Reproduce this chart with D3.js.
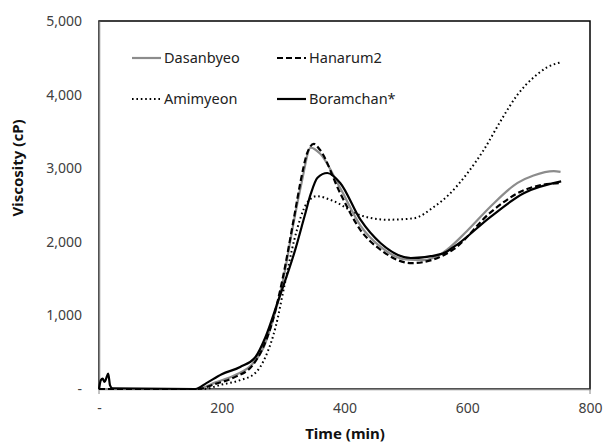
<!DOCTYPE html>
<html>
<head>
<meta charset="utf-8">
<script src="https://cdn.jsdelivr.net/npm/d3@7"></script>
<style>
  body { margin: 0; background: #fff; }
  text { font-family: "Noto Sans", sans-serif; }
</style>
</head>
<body>
<div id="container"></div>
<script>
// ---------------- data ----------------
const xTicks = [0, 200, 400, 600, 800];
const yTicks = [0, 1000, 2000, 3000, 4000, 5000];

const dasanbyeoT = [0, 160, 190, 222, 250, 268, 282, 298, 318, 330, 345, 360, 393, 426, 459, 500, 530, 560, 600, 638, 682, 708, 741, 752];
const dasanbyeoV = [0, 0, 90, 190, 340, 560, 900, 1400, 2300, 2800, 3280, 3200, 2730, 2220, 1930, 1760, 1750, 1850, 2150, 2480, 2800, 2900, 2960, 2950];

const hanarum2T = [0, 160, 190, 222, 250, 266, 282, 298, 318, 328, 339, 350, 360, 393, 426, 459, 510, 545, 578, 638, 692, 720, 753];
const hanarum2V = [0, 0, 70, 165, 320, 540, 900, 1450, 2340, 2800, 3200, 3330, 3250, 2660, 2160, 1890, 1710, 1760, 1900, 2400, 2700, 2770, 2800];

const amimyeonT = [0, 170, 200, 230, 255, 272, 288, 302, 318, 339, 355, 380, 426, 470, 513, 545, 570, 600, 627, 655, 682, 709, 730, 753];
const amimyeonV = [0, 0, 60, 120, 220, 450, 850, 1400, 2020, 2530, 2620, 2560, 2360, 2300, 2320, 2470, 2640, 2930, 3250, 3650, 4000, 4240, 4370, 4440];

const boramchanT = [0, 3, 6, 9, 12, 15, 18, 22, 157, 175, 200, 230, 255, 271, 292, 320, 335, 345, 356, 372, 393, 426, 459, 508, 560, 578, 638, 692, 753];
const boramchanV = [0, 120, 140, 95, 150, 210, 50, 10, 0, 80, 200, 300, 435, 700, 1200, 1900, 2350, 2650, 2870, 2935, 2800, 2300, 1980, 1780, 1840, 1930, 2340, 2660, 2820];

const seriesNames = ['Dasanbyeo', 'Hanarum2', 'Amimyeon', 'Boramchan*'];

// ---------------- svg ----------------
const width = 603, height = 445;
const margin = {left: 99, right: 13, top: 21, bottom: 56};

const svg = d3.select('#container').append('svg')
    .attr('width', width)
    .attr('height', height);

const x = d3.scaleLinear().domain([0, 800]).range([margin.left, width - margin.right]);
const y = d3.scaleLinear().domain([0, 5000]).range([height - margin.bottom, margin.top]);

// plot frame (top/right black)
svg.append('rect')
    .attr('x', x(0)).attr('y', y(5000))
    .attr('width', x(800) - x(0)).attr('height', y(0) - y(5000))
    .attr('fill', 'none').attr('stroke', '#000').attr('stroke-width', 1.5);

const fmt = (d) => d === 0 ? '-' : d3.format(',')(d);

// y axis
const yAxis = svg.append('g')
    .attr('transform', `translate(${x(0)},0)`)
    .call(d3.axisLeft(y).tickValues(yTicks).tickFormat(fmt).tickSize(0).tickPadding(17));
yAxis.select('.domain').attr('stroke', '#868686').attr('stroke-width', 1.5);
yAxis.selectAll('text').attr('font-size', 14).attr('fill', '#404040')
    .style('font-family', '"Noto Sans", sans-serif');

// x axis
const xAxis = svg.append('g')
    .attr('transform', `translate(0,${y(0)})`)
    .call(d3.axisBottom(x).tickValues(xTicks).tickFormat(fmt).tickSize(0).tickPadding(14));
xAxis.select('.domain').attr('stroke', '#868686').attr('stroke-width', 1.5);
xAxis.selectAll('text').attr('font-size', 14).attr('fill', '#404040')
    .style('font-family', '"Noto Sans", sans-serif');
// small end ticks
[0, 800].forEach((t) => {
  svg.append('line')
      .attr('x1', x(t)).attr('x2', x(t))
      .attr('y1', y(0)).attr('y2', y(0) + 5)
      .attr('stroke', '#868686').attr('stroke-width', 1);
});

// axis titles
svg.append('text')
    .attr('x', 345).attr('y', 439)
    .attr('text-anchor', 'middle')
    .attr('font-size', 15).attr('font-weight', 'bold').attr('fill', '#111')
    .text('Time (min)');
svg.append('text')
    .attr('transform', 'translate(23,168) rotate(-90)')
    .attr('text-anchor', 'middle')
    .attr('font-size', 15).attr('font-weight', 'bold').attr('fill', '#111')
    .text('Viscosity (cP)');

// ---------------- lines ----------------
const styles = [
  {stroke: '#8c8c8c', dash: null, width: 2.2},
  {stroke: '#000', dash: '6,3', width: 2.2},
  {stroke: '#000', dash: '1.6,2.8', width: 2},
  {stroke: '#000', dash: null, width: 2.2}
];
const seriesT = [dasanbyeoT, hanarum2T, amimyeonT, boramchanT];
const seriesV = [dasanbyeoV, hanarum2V, amimyeonV, boramchanV];

const line = d3.line()
    .x((d) => x(d[0]))
    .y((d) => y(d[1]))
    .curve(d3.curveMonotoneX);

const order = [2, 0, 1, 3];
order.forEach((i) => {
  const pts = seriesT[i].map((t, k) => [t, seriesV[i][k]]);
  svg.append('path')
      .datum(pts)
      .attr('d', line)
      .attr('fill', 'none')
      .attr('stroke', styles[i].stroke)
      .attr('stroke-width', styles[i].width)
      .attr('stroke-dasharray', styles[i].dash)
      .attr('stroke-linejoin', 'round');
});

// ---------------- legend ----------------
const legendPos = [[132, 58], [277, 58], [132, 99], [277, 99]];
seriesNames.forEach((name, i) => {
  const [lx, ly] = legendPos[i];
  svg.append('line')
      .attr('x1', lx).attr('x2', lx + 29)
      .attr('y1', ly).attr('y2', ly)
      .attr('stroke', styles[i].stroke)
      .attr('stroke-width', styles[i].width)
      .attr('stroke-dasharray', styles[i].dash);
  svg.append('text')
      .attr('x', lx + 32).attr('y', ly + 5)
      .attr('font-size', 14.5).attr('fill', '#222')
      .text(name);
});
</script>
</body>
</html>
